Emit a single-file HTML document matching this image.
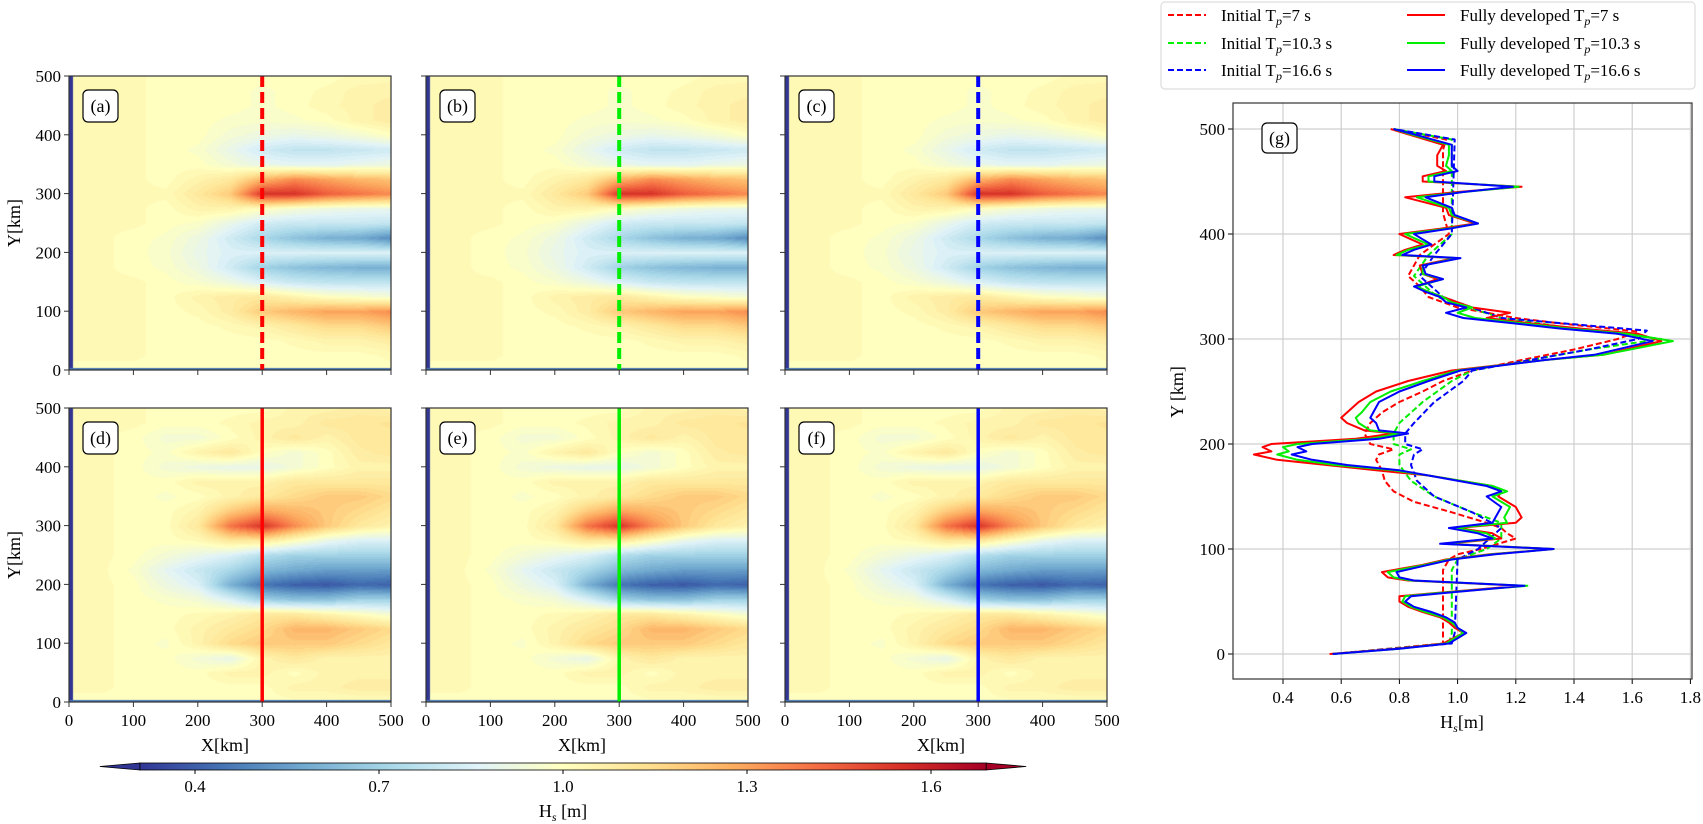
<!DOCTYPE html>
<html><head><meta charset="utf-8">
<style>
html,body{margin:0;padding:0;background:#fff;}
#wrap{position:relative;width:1703px;height:824px;overflow:hidden;font-family:"Liberation Serif",serif;}
canvas{position:absolute;}
svg{position:absolute;left:0;top:0;}
</style></head>
<body>
<div id="wrap">
<canvas id="ca"></canvas>
<canvas id="cb"></canvas>
<canvas id="cc"></canvas>
<canvas id="cd"></canvas>
<canvas id="ce"></canvas>
<canvas id="cf"></canvas>
<svg id="svg" width="1703" height="824" xmlns="http://www.w3.org/2000/svg"></svg>
</div>
<script>
// ---------- data ----------
const gridX = [0,50,100,150,200,250,300,350,400,450,500];
const gridY = [500,475,450,425,400,375,350,325,300,275,250,225,200,175,150,125,100,75,50,25,0];
const initialField = [
[1.02,1.02,1.02,1.0,1.0,1.0,1.0,1.0,1.0,1.02,1.03],
[1.02,1.02,1.02,1.0,1.0,1.0,0.98,1.0,1.02,1.05,1.05],
[1.02,1.02,1.02,1.0,1.0,1.0,0.98,1.0,1.03,1.05,1.08],
[1.02,1.02,1.02,1.0,1.0,0.98,0.97,0.98,1.0,1.05,1.08],
[1.02,1.02,1.02,1.0,1.0,0.95,0.92,0.9,0.92,0.95,1.0],
[1.02,1.02,1.02,1.0,0.98,0.9,0.82,0.78,0.78,0.8,0.82],
[1.02,1.02,1.02,1.0,1.0,0.95,0.9,0.88,0.88,0.9,0.92],
[1.02,1.02,1.02,1.0,1.05,1.1,1.25,1.35,1.3,1.25,1.22],
[1.02,1.02,1.02,1.02,1.1,1.2,1.55,1.55,1.45,1.4,1.35],
[1.02,1.02,1.02,1.0,1.05,1.05,1.0,0.95,0.92,0.9,0.9],
[1.02,1.02,1.02,1.0,0.98,0.9,0.82,0.8,0.8,0.8,0.78],
[1.02,1.02,1.0,0.98,0.92,0.82,0.72,0.65,0.6,0.58,0.5],
[1.02,1.02,1.0,0.97,0.9,0.85,0.85,0.85,0.85,0.85,0.85],
[1.02,1.02,1.0,0.98,0.92,0.82,0.7,0.65,0.62,0.6,0.6],
[1.02,1.02,1.02,1.0,0.97,0.92,0.85,0.8,0.78,0.78,0.78],
[1.02,1.02,1.02,1.0,1.05,1.08,1.1,1.05,1.0,0.98,0.95],
[1.02,1.02,1.02,1.0,1.02,1.08,1.2,1.25,1.3,1.3,1.35],
[1.02,1.02,1.02,1.0,1.0,1.02,1.05,1.1,1.15,1.15,1.2],
[1.02,1.02,1.02,1.0,1.0,1.0,1.0,1.02,1.05,1.05,1.08],
[1.02,1.02,1.02,1.0,1.0,1.0,1.0,1.0,1.0,1.0,1.02],
[1.0,1.0,1.0,1.0,1.0,1.0,1.0,1.0,1.0,1.0,1.0]];
const developedField = [
[1.02,1.02,1.02,1.0,1.0,1.0,1.0,1.05,1.05,1.08,1.05],
[1.02,1.02,1.02,1.0,1.0,1.02,1.05,1.05,1.1,1.1,1.12],
[1.02,1.02,1.0,0.95,0.95,1.0,1.05,1.1,1.05,1.1,1.1],
[1.02,1.02,1.0,0.98,1.05,1.1,1.0,0.95,1.0,1.08,1.1],
[1.02,1.02,1.0,0.95,0.92,0.9,0.9,0.95,1.0,1.05,1.05],
[1.02,1.02,1.0,1.0,1.05,1.05,1.05,1.1,1.1,1.1,1.1],
[1.02,1.02,1.0,0.98,1.0,1.05,1.1,1.15,1.2,1.2,1.15],
[1.02,1.02,1.0,1.0,1.05,1.2,1.3,1.25,1.2,1.15,1.1],
[1.02,1.02,1.0,1.0,1.1,1.4,1.55,1.35,1.2,1.1,1.05],
[1.02,1.02,1.0,1.0,1.02,1.1,1.1,1.0,0.9,0.85,0.85],
[1.02,1.02,1.0,0.95,0.9,0.85,0.75,0.7,0.7,0.7,0.7],
[1.02,1.02,0.98,0.88,0.8,0.72,0.62,0.58,0.55,0.55,0.55],
[1.02,1.02,1.0,0.92,0.85,0.6,0.45,0.4,0.38,0.42,0.4],
[1.02,1.02,1.0,0.98,0.95,0.85,0.7,0.65,0.65,0.7,0.7],
[1.02,1.02,1.0,1.0,1.02,1.05,1.1,1.1,1.05,1.0,0.95],
[1.02,1.02,1.0,1.0,1.05,1.1,1.15,1.25,1.25,1.2,1.15],
[1.02,1.02,1.0,0.98,1.05,1.15,1.2,1.2,1.2,1.15,1.1],
[1.02,1.02,1.0,1.0,0.95,0.9,1.05,1.1,1.05,1.05,1.05],
[1.02,1.02,1.0,1.0,1.0,1.05,1.05,1.0,1.05,1.05,1.05],
[1.02,1.02,1.0,1.0,1.0,1.0,1.0,1.05,1.05,1.08,1.08],
[1.0,1.0,1.0,1.0,1.0,1.0,1.0,1.0,1.0,1.0,1.0]];
const panelLabels = ['(a)','(b)','(c)','(d)','(e)','(f)'];
const sectionX = 300;
const mapTicks = [0,100,200,300,400,500];
const cbarTicks = [0.4,0.7,1.0,1.3,1.6];
const gXTicks = [0.4,0.6,0.8,1.0,1.2,1.4,1.6,1.8];
const gYTicks = [0,100,200,300,400,500];

// fully developed profiles (shared y)
const fdY   = [0,5,10,20,25,30,35,40,45,50,55,58,65,70,73,78,85,90,95,100,105,110,115,120,125,130,140,150,155,160,170,175,180,185,190,193,197,200,205,210,213,220,225,230,240,250,260,270,280,285,298,305,310,315,320,325,330,335,340,345,350,357,362,370,377,380,385,390,395,400,405,410,418,425,435,440,445,450,455,460,465,475,485,495,500];
const fdBlue= [0.57,0.80,0.97,1.03,1.0,0.99,0.96,0.91,0.85,0.82,0.84,0.95,1.23,0.85,0.80,0.79,0.90,0.98,1.13,1.33,0.94,1.12,1.07,0.97,1.12,1.13,1.15,1.10,1.15,1.10,0.90,0.80,0.62,0.50,0.43,0.48,0.45,0.50,0.73,0.83,0.73,0.72,0.70,0.71,0.73,0.80,0.90,1.01,1.30,1.47,1.67,1.55,1.35,1.19,1.02,0.96,1.03,0.96,0.94,0.89,0.85,0.95,0.89,0.88,1.01,0.81,0.85,0.91,0.88,0.85,0.97,1.07,0.99,0.98,0.89,1.02,1.19,0.92,0.92,1.0,0.98,0.98,0.98,0.85,0.78];
const fdGreen=[0.57,0.80,0.96,1.02,1.0,0.98,0.95,0.89,0.84,0.81,0.82,0.93,1.24,0.84,0.78,0.76,0.89,0.97,1.12,1.33,0.95,1.13,1.10,0.99,1.17,1.16,1.18,1.12,1.17,1.12,0.90,0.78,0.58,0.45,0.38,0.42,0.40,0.45,0.70,0.80,0.70,0.66,0.65,0.67,0.70,0.77,0.88,1.00,1.30,1.50,1.74,1.58,1.38,1.22,1.06,1.00,1.05,0.98,0.95,0.90,0.86,0.95,0.88,0.88,1.0,0.79,0.83,0.90,0.86,0.82,0.96,1.07,0.98,0.97,0.86,1.02,1.21,0.90,0.90,0.98,0.96,0.97,0.97,0.84,0.78];
const fdRed = [0.56,0.79,0.95,1.02,0.99,0.97,0.94,0.88,0.83,0.80,0.80,0.92,1.22,0.83,0.76,0.74,0.88,0.96,1.11,1.33,0.96,1.15,1.12,1.0,1.20,1.22,1.20,1.14,1.15,1.12,0.90,0.72,0.55,0.38,0.30,0.36,0.33,0.36,0.65,0.78,0.68,0.62,0.60,0.62,0.66,0.72,0.83,0.98,1.30,1.50,1.70,1.62,1.42,1.25,1.10,1.18,1.05,1.0,0.95,0.90,0.86,0.93,0.88,0.87,0.99,0.78,0.82,0.88,0.84,0.80,0.94,1.06,0.97,0.96,0.82,1.0,1.22,0.88,0.88,0.96,0.93,0.93,0.95,0.83,0.77];
// initial profiles
const inRedY  = [0,10,20,80,90,95,100,105,110,115,120,125,135,145,155,165,175,185,190,195,200,210,220,230,240,250,260,270,280,290,300,307,315,320,330,340,350,360,370,380,390,400,420,480,490,500];
const inRedHs = [0.57,0.95,0.95,0.95,0.97,1.0,1.08,1.14,1.2,1.17,1.15,1.1,0.98,0.85,0.78,0.75,0.74,0.72,0.73,0.78,0.70,0.68,0.70,0.74,0.80,0.88,0.95,1.05,1.22,1.40,1.55,1.62,1.35,1.20,1.0,0.90,0.87,0.83,0.85,0.87,0.92,0.97,0.95,0.95,0.96,0.78];
const inGreenY  = [0,10,20,80,90,100,110,125,135,150,165,180,190,195,200,210,220,240,260,270,290,300,310,320,340,360,380,400,490,500];
const inGreenHs = [0.57,0.97,0.98,0.98,1.0,1.1,1.15,1.15,1.05,0.92,0.84,0.80,0.80,0.84,0.78,0.78,0.80,0.88,0.98,1.05,1.45,1.70,1.40,1.15,0.93,0.85,0.90,0.98,0.98,0.78];
const inBlueY  = [0,10,20,90,100,120,135,150,165,180,190,195,200,210,220,240,260,270,290,300,308,320,340,360,380,400,490,500];
const inBlueHs = [0.57,0.98,0.99,1.0,1.07,1.15,1.05,0.92,0.86,0.84,0.85,0.88,0.82,0.82,0.85,0.92,1.02,1.05,1.45,1.62,1.65,1.15,0.95,0.87,0.92,0.98,0.99,0.78];

// ---------- helpers ----------
const NS='http://www.w3.org/2000/svg';
const svg=document.getElementById('svg');
function mk(tag,attrs,parent){const e=document.createElementNS(NS,tag);for(const k in attrs)e.setAttribute(k,attrs[k]);(parent||svg).appendChild(e);return e;}
const VMIN=0.31,VMAX=1.69;
const cmapStops=[[49,54,149],[69,117,180],[116,173,209],[171,217,233],[224,243,248],[255,255,191],[254,224,144],[253,174,97],[244,109,67],[215,48,39],[165,0,38]];
function cmap(v){let t=(v-VMIN)/(VMAX-VMIN);t=Math.max(0,Math.min(1,t));const f=t*10;const i=Math.min(9,Math.floor(f));const r=f-i;const a=cmapStops[i],b=cmapStops[i+1];return [a[0]+(b[0]-a[0])*r,a[1]+(b[1]-a[1])*r,a[2]+(b[2]-a[2])*r];}
function sample(field,X,Y){const fx=X/(gridX[1]-gridX[0]);const fy=(gridY[0]-Y)/(gridY[0]-gridY[1]);const i0=Math.min(gridX.length-2,Math.floor(fx)),j0=Math.min(gridY.length-2,Math.floor(fy));const rx=fx-i0,ry=fy-j0;const a=field[j0][i0],b=field[j0][i0+1],c=field[j0+1][i0],d=field[j0+1][i0+1];return a*(1-rx)*(1-ry)+b*rx*(1-ry)+c*(1-rx)*ry+d*rx*ry;}

const colL=[69,426,785], rowT=[76,408], PW=322, PH=294;
const lineColors=['#ff0000','#00ee00','#0000ff'];
const canv=['ca','cb','cc','cd','ce','cf'];

for(let r=0;r<2;r++)for(let c=0;c<3;c++){
  const idx=r*3+c,L=colL[c],T=rowT[r];
  const xs=v=>L+v/500*PW, ys=v=>T+PH-v/500*PH;
  const field=r===0?initialField:developedField;
  const cv=document.getElementById(canv[idx]);cv.width=PW;cv.height=PH;cv.style.left=L+'px';cv.style.top=T+'px';
  const ctx=cv.getContext('2d');const img=ctx.createImageData(PW,PH);
  for(let py=0;py<PH;py++)for(let px=0;px<PW;px++){
    let v=sample(field,px/PW*500,500-py/PH*500);
    v=Math.round(v/0.025)*0.025;
    const col=cmap(v);const o=(py*PW+px)*4;img.data[o]=col[0];img.data[o+1]=col[1];img.data[o+2]=col[2];img.data[o+3]=255;}
  ctx.putImageData(img,0,0);
  ctx.fillStyle='#313695';ctx.fillRect(0,0,4,PH);
  ctx.fillStyle='#4575b4';ctx.fillRect(0,PH-2,PW,2);
  const g=mk('g',{});
  
  
  // section line
  const sl=mk('line',{x1:xs(sectionX),x2:xs(sectionX),y1:T,y2:T+PH,stroke:lineColors[c],'stroke-width':r===0?4:3.5,'stroke-dasharray':r===0?'11,5':'none'},g);
  
  
  const fr=mk('rect',{x:L,y:T,width:PW,height:PH,fill:'none',stroke:'#333','stroke-width':1.2},g);
  
  
  // ticks
  mapTicks.forEach(t=>{
    const tx=mk('line',{x1:xs(t),x2:xs(t),y1:T+PH,y2:T+PH+5,stroke:'#333'},g);
    
    
    const ty=mk('line',{x1:L-5,x2:L,y1:ys(t),y2:ys(t),stroke:'#333'},g);
    
    
    if(r===1){const tl=mk('text',{x:xs(t),y:T+PH+24,'text-anchor':'middle','font-size':17},g);tl.textContent=t;
      
      }
    if(c===0){const tl=mk('text',{x:L-8,y:ys(t)+6,'text-anchor':'end','font-size':17},g);tl.textContent=t;
      
      }
  });
  if(r===1){const xl=mk('text',{x:L+PW/2-5,y:T+PH+49,'text-anchor':'middle','font-size':18},g);xl.textContent='X[km]';
    
    }
  if(c===0){const yl=mk('text',{x:0,y:0,'text-anchor':'middle','font-size':18,transform:`translate(20,${T+PH/2}) rotate(-90)`},g);yl.textContent='Y[km]';
    
    }
  const lb=mk('rect',{x:L+14,y:T+14,width:35,height:32,rx:5,fill:'#fff',stroke:'#000','stroke-width':1.2},g);
  
  
  const lt=mk('text',{x:L+31.5,y:T+36,'text-anchor':'middle','font-size':18},g);lt.textContent=panelLabels[idx];
  
  
}

// ---------- colorbar ----------
(function(){
  const cx=v=>195+(v-0.4)/0.3*184;
  const x0=cx(VMIN),x1=cx(VMAX),yT=763,yB=770,ym=(yT+yB)/2;
  const defs=mk('defs',{});
  const lg=mk('linearGradient',{id:'cbg',x1:0,x2:1,y1:0,y2:0},defs);
  cmapStops.forEach((s,i)=>mk('stop',{offset:i/10,'stop-color':`rgb(${s[0]},${s[1]},${s[2]})`},lg));
  const bar=mk('rect',{x:x0,y:yT,width:x1-x0,height:yB-yT,fill:'url(#cbg)',stroke:'#000','stroke-width':0.8});
  
  
  const lt=mk('polygon',{points:`${x0},${yT} ${x0-40},${ym} ${x0},${yB}`,fill:'#313695',stroke:'#000','stroke-width':0.8});
  
  
  const rt=mk('polygon',{points:`${x1},${yT} ${x1+40},${ym} ${x1},${yB}`,fill:'#a50026',stroke:'#000','stroke-width':0.8});
  
  
  cbarTicks.forEach(t=>{
    const tk=mk('line',{x1:cx(t),x2:cx(t),y1:yB,y2:yB+4,stroke:'#000'});
    
    
    const tl=mk('text',{x:cx(t),y:792,'text-anchor':'middle','font-size':17});tl.textContent=t.toFixed(1);
    
    
  });
  const ttl=mk('text',{x:563,y:817,'text-anchor':'middle','font-size':18});
  
  
  ttl.innerHTML='H<tspan font-size="12" font-style="italic" dy="4">s</tspan><tspan dy="-4">  [m]</tspan>';
})();

// ---------- profile panel (g) ----------
(function(){
  const L=1233,R=1692,T=103,B=679;
  const gx=v=>1283+(v-0.4)*291, gy=v=>654-v*1.05;
  const g=mk('g',{});
  
  
  gXTicks.forEach(t=>{
    const gl=mk('line',{x1:gx(t),x2:gx(t),y1:T,y2:B,stroke:'#cfcfcf','stroke-width':1.2},g);
    
    
    const tk=mk('line',{x1:gx(t),x2:gx(t),y1:B,y2:B+5,stroke:'#000'},g);
    
    
    const tl=mk('text',{x:gx(t),y:B+24,'text-anchor':'middle','font-size':17},g);tl.textContent=t.toFixed(1);
    
    
  });
  gYTicks.forEach(t=>{
    const gl=mk('line',{x1:L,x2:R,y1:gy(t),y2:gy(t),stroke:'#cfcfcf','stroke-width':1.2},g);
    
    
    const tk=mk('line',{x1:L-5,x2:L,y1:gy(t),y2:gy(t),stroke:'#000'},g);
    
    
    const tl=mk('text',{x:L-8,y:gy(t)+6,'text-anchor':'end','font-size':17},g);tl.textContent=t;
    
    
  });
  const series=[
    [inRedY,inRedHs,'#ff0000',true,'initial-tp7-line'],
    [inGreenY,inGreenHs,'#00ee00',true,'initial-tp10-3-line'],
    [inBlueY,inBlueHs,'#0000ff',true,'initial-tp16-6-line'],
    [fdY,fdRed,'#ff0000',false,'developed-tp7-line'],
    [fdY,fdGreen,'#00ee00',false,'developed-tp10-3-line'],
    [fdY,fdBlue,'#0000ff',false,'developed-tp16-6-line']];
  series.forEach(s=>{
    const pts=s[0].map((y,i)=>gx(s[1][i]).toFixed(1)+','+gy(y).toFixed(1)).join(' ');
    const pl=mk('polyline',{points:pts,fill:'none',stroke:s[2],'stroke-width':2,'stroke-dasharray':s[3]?'6,3':'none','stroke-linejoin':'round'},g);
    
    
  });
  const fr=mk('rect',{x:L,y:T,width:R-L,height:B-T,fill:'none',stroke:'#333','stroke-width':1.2},g);
  
  
  const lb=mk('rect',{x:1262,y:123,width:35,height:30,rx:5,fill:'#fff',stroke:'#000','stroke-width':1.2},g);
  
  
  const lt=mk('text',{x:1279.5,y:144,'text-anchor':'middle','font-size':18},g);lt.textContent='(g)';
  
  
  const yl=mk('text',{x:0,y:0,'text-anchor':'middle','font-size':18,transform:'translate(1183,392) rotate(-90)'},g);yl.textContent='Y [km]';
  
  
  const xl=mk('text',{x:1462,y:728,'text-anchor':'middle','font-size':18},g);
  
  
  xl.innerHTML='H<tspan font-size="12" font-style="italic" dy="4">s</tspan><tspan dy="-4">[m]</tspan>';
})();

// ---------- legend ----------
(function(){
  const g=mk('g',{});
  
  
  const box=mk('rect',{x:1161,y:2,width:534,height:87,rx:4,fill:'#fff',stroke:'#ddd','stroke-width':1.2},g);
  
  
  const entries=[
    ['Initial T','=7 s','#ff0000',true,1168,15],['Initial T','=10.3 s','#00ee00',true,1168,43],['Initial T','=16.6 s','#0000ff',true,1168,70],
    ['Fully developed T','=7 s','#ff0000',false,1407,15],['Fully developed T','=10.3 s','#00ee00',false,1407,43],['Fully developed T','=16.6 s','#0000ff',false,1407,70]];
  entries.forEach(e=>{
    const ln=mk('line',{x1:e[4],x2:e[4]+38,y1:e[5],y2:e[5],stroke:e[2],'stroke-width':2,'stroke-dasharray':e[3]?'6,3':'none'},g);
    
    
    const tx=mk('text',{x:e[4]+53,y:e[5]+6,'font-size':17},g);
    
    
    tx.innerHTML=e[0]+'<tspan font-size="12" font-style="italic" dy="4">p</tspan><tspan dy="-4">'+e[1]+'</tspan>';
  });
})();
</script>
</body></html>
